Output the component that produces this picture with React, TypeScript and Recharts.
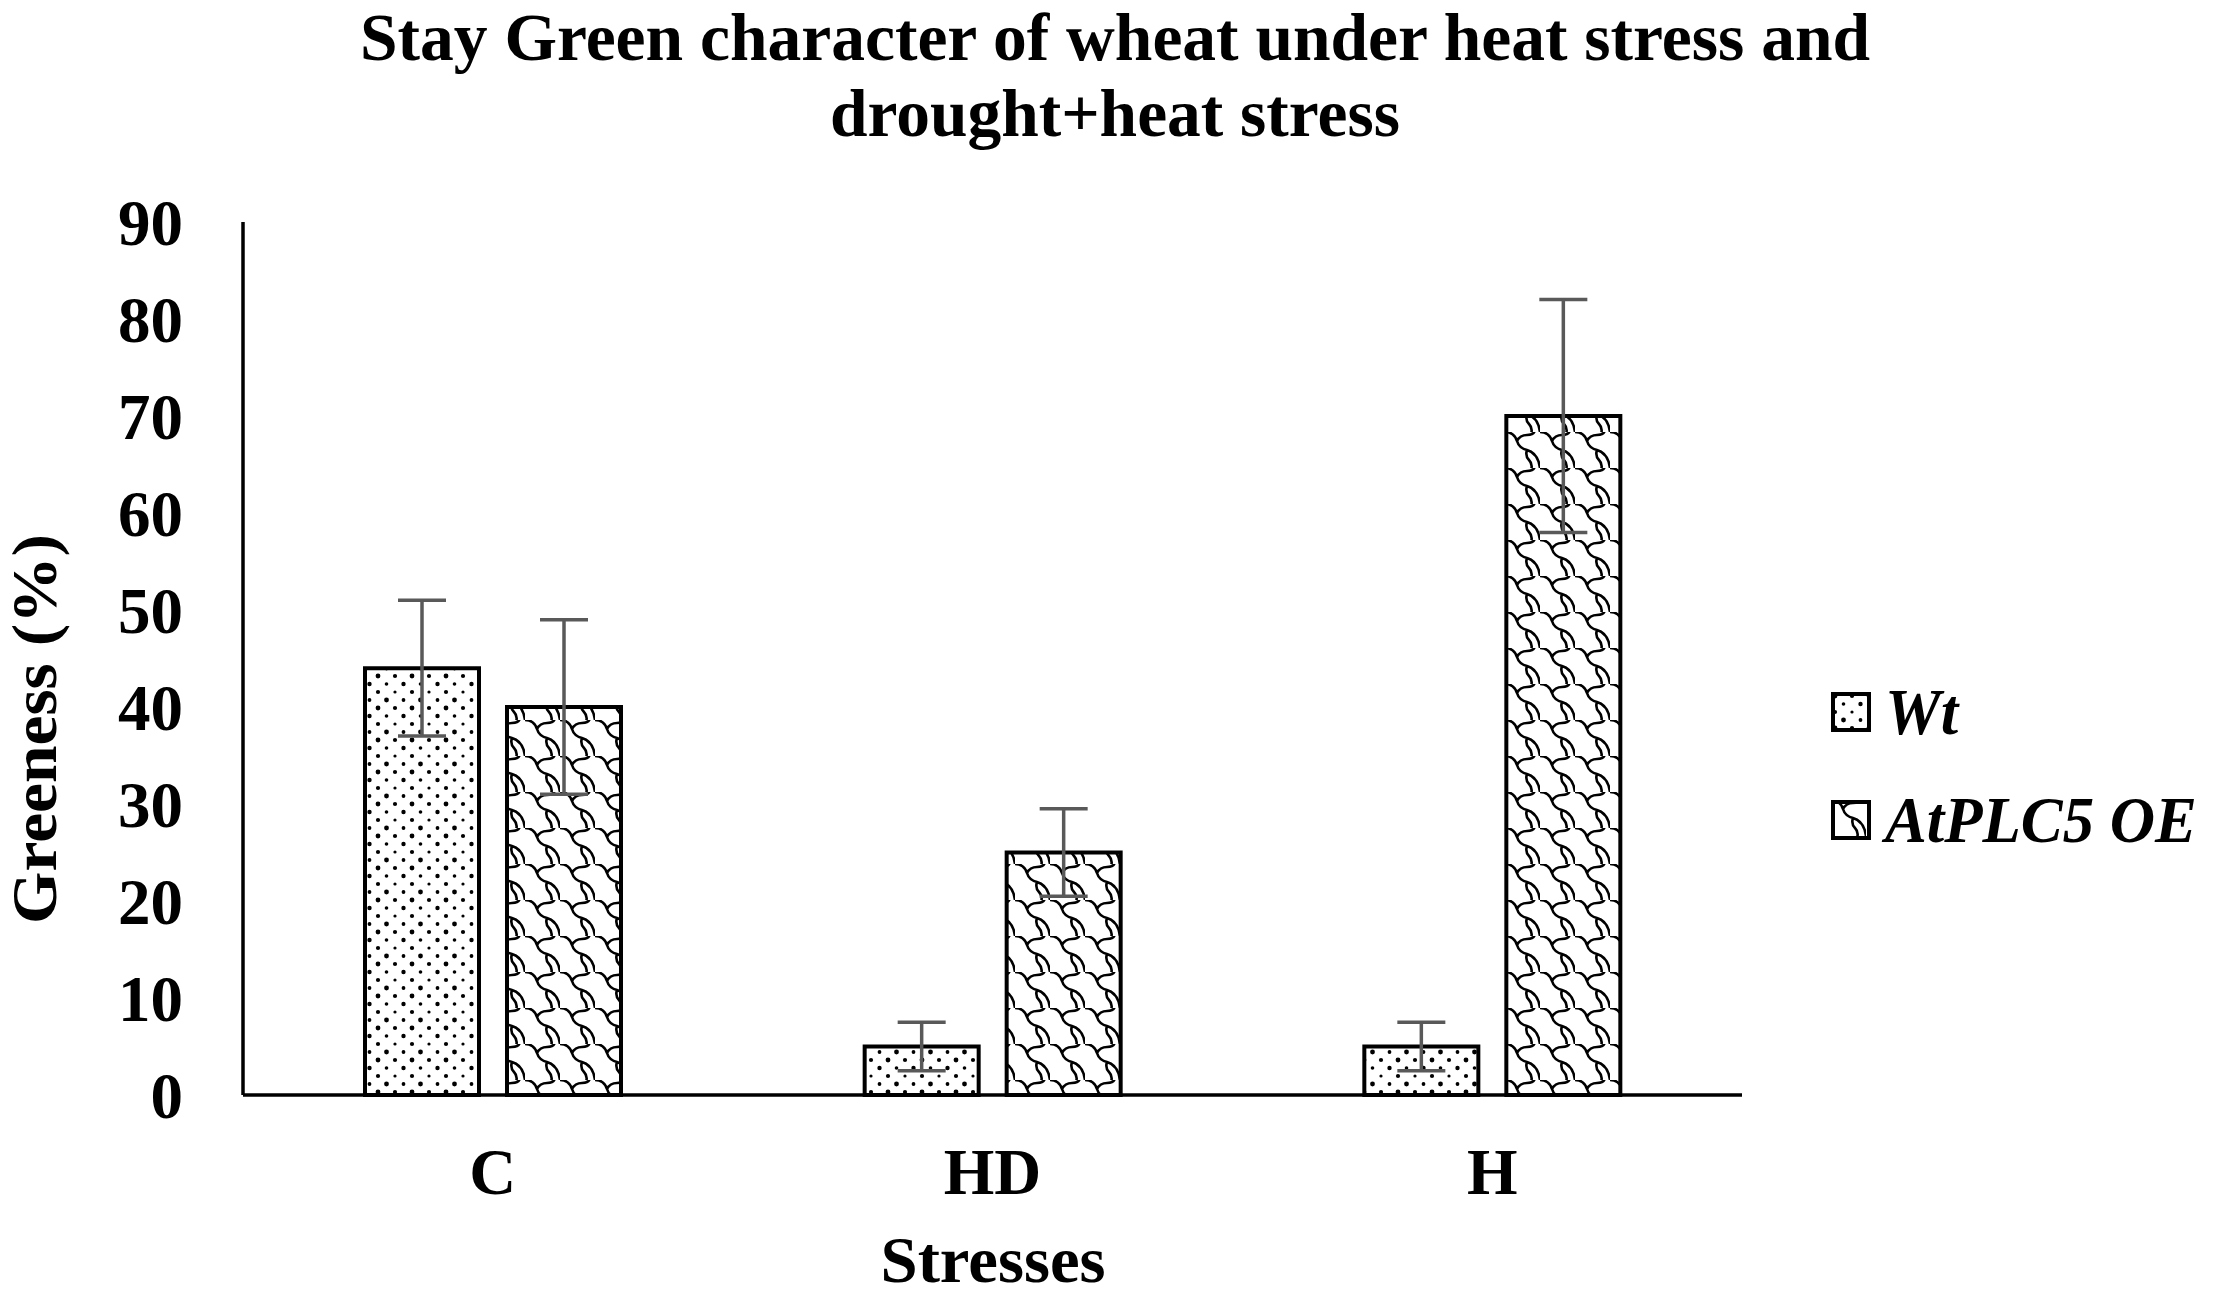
import React from 'react';
import { BarChart, Bar, XAxis, YAxis, ErrorBar, Legend } from 'recharts';

const categories = ['C', 'HD', 'H'];
const wtValues = [44, 5, 5];
const wtErrors = [7, 2.5, 2.5];
const oeValues = [40, 25, 70];
const oeErrors = [9, 4.5, 12];
const yTicks = [0, 10, 20, 30, 40, 50, 60, 70, 80, 90];

const data = categories.map((name, i) => ({
  name,
  wt: wtValues[i],
  wtErr: wtErrors[i],
  oe: oeValues[i],
  oeErr: oeErrors[i],
}));

const FONT = '"Liberation Serif", "Times New Roman", serif';

const Patterns = ({ prefix }: { prefix: string }) => (
  <defs>
    <pattern id={`${prefix}dots`} width="34" height="32" patternUnits="userSpaceOnUse">
      <rect width="34" height="32" fill="#fff" />
      <circle cx="4" cy="4" r="2.4" fill="#000" />
      <circle cx="21" cy="4" r="2.1" fill="#000" />
      <circle cx="12.5" cy="12" r="1.8" fill="#000" />
      <circle cx="29.5" cy="12" r="2.2" fill="#000" />
      <circle cx="4" cy="20" r="2.1" fill="#000" />
      <circle cx="21" cy="20" r="1.6" fill="#000" />
      <circle cx="12.5" cy="28" r="2.4" fill="#000" />
      <circle cx="29.5" cy="28" r="1.9" fill="#000" />
    </pattern>
    <pattern id={`${prefix}wave`} width="35" height="36" patternUnits="userSpaceOnUse">
      <rect width="35" height="36" fill="#fff" />
      <path
        d="M0,0 Q9,0 12,9 Q14,16 22,18 Q33,21 35,36 M12,9 Q15,3 22,3 Q29,3 30,-2 M22,18 Q20,24 24,28 Q28,32 26,38"
        fill="none"
        stroke="#000"
        strokeWidth="2.6"
      />
    </pattern>
  </defs>
);

const legendItems = [
  { label: 'Wt', fill: 'lgdots' },
  { label: 'AtPLC5 OE', fill: 'lgwave' },
];

const LegendContent = () => (
  <div style={{ fontFamily: FONT }}>
    <svg width="0" height="0" style={{ position: 'absolute' }}>
      <Patterns prefix="lg" />
    </svg>
    {legendItems.map((item) => (
      <div key={item.label} style={{ display: 'flex', alignItems: 'center', height: 108 }}>
        <svg width="40" height="40">
          <rect x="2" y="2" width="36" height="36" fill={`url(#${item.fill})`} stroke="#000" strokeWidth="4" />
        </svg>
        <span
          style={{
            marginLeft: 14,
            fontSize: 66,
            fontWeight: 'bold',
            fontStyle: 'italic',
            color: '#000',
            whiteSpace: 'nowrap',
            display: 'inline-block',
            transform: 'scaleX(0.95)',
            transformOrigin: 'left center',
          }}
        >
          {item.label}
        </span>
      </div>
    ))}
  </div>
);

export default function App() {
  return (
    <div style={{ position: 'absolute', left: 0, top: 0, background: '#fff' }}>
      <BarChart
        width={2228}
        height={1297}
        data={data}
        margin={{ top: 222, right: 486, left: 123, bottom: 102 }}
        barGap={28}
        barSize={114}
      >
        <Patterns prefix="" />
        <text
          x={1115}
          y={60}
          textAnchor="middle"
          fontFamily={FONT}
          fontWeight="bold"
          fontSize={68}
          textLength={1510}
          lengthAdjust="spacingAndGlyphs"
        >
          Stay Green character of wheat under heat stress and
        </text>
        <text
          x={1115}
          y={136}
          textAnchor="middle"
          fontFamily={FONT}
          fontWeight="bold"
          fontSize={68}
          textLength={570}
          lengthAdjust="spacingAndGlyphs"
        >
          drought+heat stress
        </text>
        <text
          x={993}
          y={1282}
          textAnchor="middle"
          fontFamily={FONT}
          fontWeight="bold"
          fontSize={66}
          textLength={225}
          lengthAdjust="spacingAndGlyphs"
        >
          Stresses
        </text>
        <text
          x={56}
          y={729}
          textAnchor="middle"
          transform="rotate(-90 56 729)"
          fontFamily={FONT}
          fontWeight="bold"
          fontSize={64}
          textLength={390}
          lengthAdjust="spacingAndGlyphs"
        >
          Greeness (%)
        </text>
        <XAxis
          dataKey="name"
          height={100}
          tickLine={false}
          tickSize={0}
          tickMargin={53}
          axisLine={{ stroke: '#000', strokeWidth: 3.5 }}
          tick={{ fontSize: 65, fontWeight: 'bold', fill: '#000', fontFamily: FONT }}
        />
        <YAxis
          width={120}
          domain={[0, 90]}
          ticks={yTicks}
          interval={0}
          tickLine={false}
          tickSize={0}
          tickMargin={60}
          axisLine={{ stroke: '#000', strokeWidth: 3.5 }}
          tick={{ fontSize: 65, fontWeight: 'bold', fill: '#000', fontFamily: FONT }}
        />
        <Legend
          layout="horizontal"
          align="center"
          verticalAlign="middle"
          wrapperStyle={{ left: 1831, top: 658, width: 'auto' }}
          content={() => <LegendContent />}
        />
        <Bar dataKey="wt" name="Wt" fill="url(#dots)" stroke="#000" strokeWidth={4} isAnimationActive={false}>
          <ErrorBar dataKey="wtErr" width={24} stroke="#595959" strokeWidth={3.5} direction="y" />
        </Bar>
        <Bar dataKey="oe" name="AtPLC5 OE" fill="url(#wave)" stroke="#000" strokeWidth={4} isAnimationActive={false}>
          <ErrorBar dataKey="oeErr" width={24} stroke="#595959" strokeWidth={3.5} direction="y" />
        </Bar>
      </BarChart>
    </div>
  );
}
